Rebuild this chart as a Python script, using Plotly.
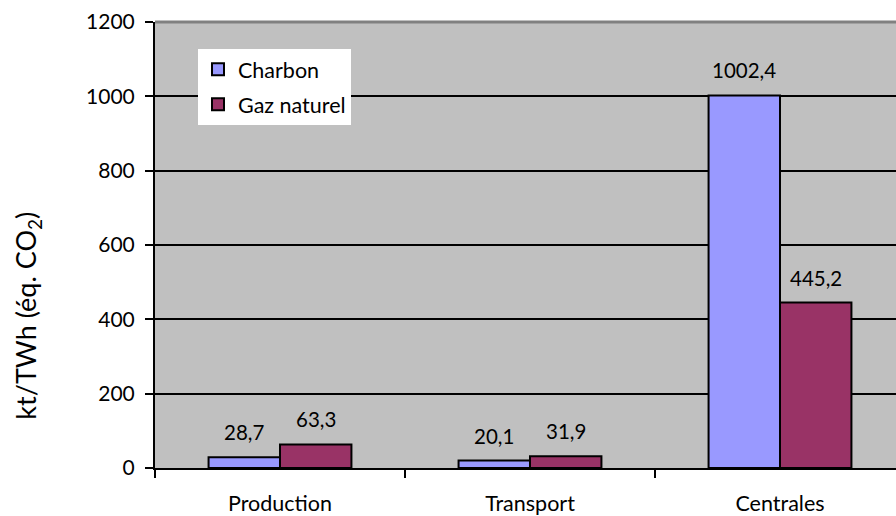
import plotly.graph_objects as go

# Emission factors by stage, kt/TWh CO2-equivalent
categories = ["Production", "Transport", "Centrales"]
charbon = [28.7, 20.1, 1002.4]
gaz_naturel = [63.3, 31.9, 445.2]
y_ticks = [0, 200, 400, 600, 800, 1000, 1200]

FONT = "Lato, 'Noto Sans', sans-serif"
COL_CHARBON = "#9999FF"
COL_GAZ = "#993366"


def fr(v):
    return f"{v:.1f}".replace(".", ",")


fig = go.Figure()
fig.add_trace(go.Bar(
    name="Charbon", x=categories, y=charbon,
    marker=dict(color=COL_CHARBON, line=dict(color="black", width=2)),
    legendgroup="c",
))
fig.add_trace(go.Bar(
    name="Gaz naturel", x=categories, y=gaz_naturel,
    marker=dict(color=COL_GAZ, line=dict(color="black", width=2)),
    legendgroup="g",
))

# value labels above each bar
annotations = []
for vals, shift in ((charbon, -35.7), (gaz_naturel, 35.7)):
    for cat, v in zip(categories, vals):
        annotations.append(dict(
            x=cat, y=v, xref="x", yref="y", text=fr(v), showarrow=False,
            xshift=shift, yshift=25, yanchor="middle",
            font=dict(family=FONT, size=20.5, color="black"),
        ))

# vertical axis title
annotations.append(dict(
    x=(28 - 155) / 741, y=(470 - 317) / 448, xref="paper", yref="paper",
    text="kt/TWh (éq. CO<sub>2</sub>)", textangle=-90, showarrow=False,
    xanchor="center", yanchor="middle",
    font=dict(family=FONT, size=27, color="black"),
))

fig.update_layout(
    width=896, height=516,
    margin=dict(l=155, r=0, t=22, b=46),
    paper_bgcolor="white",
    plot_bgcolor="#C0C0C0",
    barmode="group", bargap=1.5 / 3.5, bargroupgap=0,
    font=dict(family=FONT, color="black"),
    annotations=annotations,
    legend=dict(
        x=(198 - 155) / 741, y=(470 - 49) / 448, xanchor="left", yanchor="top",
        bgcolor="white", borderwidth=0,
        font=dict(family=FONT, size=21.5, color="black"),
        traceorder="grouped", tracegroupgap=4,
        itemwidth=30,
    ),
    xaxis=dict(
        type="category", range=[-0.5, 2.464],
        showgrid=False, showline=True, linecolor="black", linewidth=2,
        ticks="outside", ticklen=8, tickwidth=2, tickcolor="black",
        tickson="boundaries", ticklabelstandoff=15,
        tickfont=dict(family=FONT, size=21.5, color="black"),
    ),
    yaxis=dict(
        range=[0, 1200], tickvals=y_ticks,
        showgrid=True, gridcolor="black", gridwidth=2, zeroline=False,
        showline=True, linecolor="black", linewidth=2,
        ticks="outside", ticklen=8, tickwidth=2, tickcolor="black",
        ticklabelstandoff=6,
        tickfont=dict(family=FONT, size=21, color="black"),
    ),
    shapes=[dict(
        type="line", xref="paper", yref="paper", x0=0, x1=1, y0=1, y1=1,
        line=dict(color="#808080", width=3), layer="above",
    )],
)

fig.write_html("out.html")
